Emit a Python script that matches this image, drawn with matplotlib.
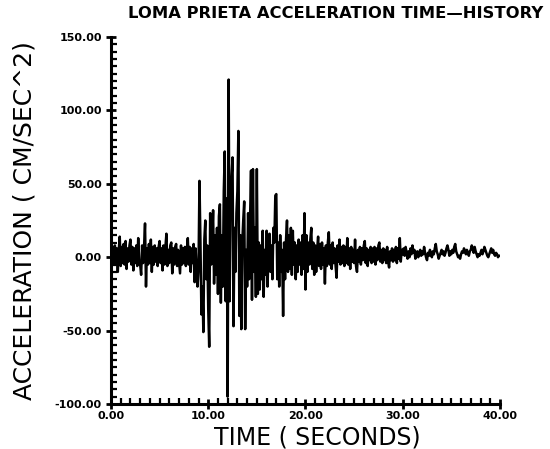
import numpy as np
import matplotlib
matplotlib.use("Agg")
from matplotlib import pyplot as plt
from matplotlib.ticker import MultipleLocator, FormatStrFormatter

# acceleration, one row per second, 0.1 s apart (cm/sec^2)
dt = 0.1
acc_0_10 = [
    4, -3, 7, -5, 8, -4, 6, -10, 5, 14,
    -6, 7, -4, 9, -5, 11, -8, 6, -3, 8,
    12, -5, 7, -9, 6, -4, 8, -6, 13, -3,
    -5, -12, 8, -4, 7, 23, -20, 6, -5, 9,
    -4, 12, -10, 7, -5, 8, -3, 6, -6, 7,
    11, -4, 6, -9, 8, -5, 7, 16, -6, 5,
    -4, 8, 10, -11, 6, -5, 7, 9, -6, 5,
    -3, -11, 8, -5, 6, -4, 7, -6, 5, 13,
    -5, 7, -10, 6, -4, 9, -17, 6, -8, -20,
    -8, 52, 10, -39, -20, -51, 12, 25, -15, 8,
]
acc_10_20 = [
    -35, -61, 30, -5, 10, 32, -18, 15, -12, 20,
    -25, 28, 36, -31, 15, -20, 45, 72, -30, 40,
    -95, 121, -30, 40, 55, 68, -47, 20, -10, 30,
    45, 86, -40, 15, -49, 10, 25, 38, -49, 5,
    -20, 30, -15, 25, 59, -29, 60, -10, 20, -27,
    60, -25, 10, -22, 8, -15, 18, -27, 5, -12,
    18, -20, 5, 16, -10, 8, -15, 20, 10, 42,
    43, -15, 10, -20, 15, -10, 5, -40, 10, -15,
    12, 25, -10, 15, -8, 20, -12, 18, -5, 10,
    -15, 8, -10, 12, -5, 10, -12, 15, -8, 30,
]
acc_20_30 = [
    -22, 15, -10, 10, -5, 12, 20, -8, 10, -12,
    8, -10, 5, 14, -6, 9, -8, 10, -5, 6,
    -18, 8, -6, 10, 17, -5, 8, -8, 10, -4,
    6, -6, -14, 8, -3, 12, -5, 7, -4, 8,
    -6, 7, -4, 13, -5, 6, -8, 7, -3, 5,
    -4, 12, -6, -10, 5, -3, 7, -5, 6, -2,
    8, 11, -4, 6, -6, 5, -2, 7, -4, 6,
    -3, 7, -5, 6, -2, 8, 10, -3, 5, -4,
    6, -2, 5, -4, 7, -3, -7, 4, -2, 6,
    -3, 5, -2, 7, -4, 6, -1, 13, -3, 5,
]
acc_30_40 = [
    2, 6, 1, 7, 3, -1, 4, 0, 6, 2,
    8, 3, 5, -1, 2, 4, 0, 3, 5, 1,
    4, 2, 7, 3, 0, -2, 3, 1, 5, 2,
    0, 4, 2, 6, 9, 4, 2, -1, 1, 3,
    5, 2, 4, 1, 3, 6, 8, 5, 1, 4,
    2, 5, 3, 7, 9, 4, 2, 0, 1, -1,
    2, 4, 3, 6, 4, 2, 5, 3, 1, 4,
    5, 8, 6, 3, 7, 4, 2, 0, 2, 1,
    3, 5, 2, 4, 7, 5, 3, 1, 0, 2,
    4, 6, 3, 5, 2, 1, 3, 2, 0, 1,
    1,
]

x_ticks = [0, 10, 20, 30, 40]
y_ticks = [-100, -50, 0, 50, 100, 150]

acc = np.array(acc_0_10 + acc_10_20 + acc_20_30 + acc_30_40, dtype=float)
time = np.arange(len(acc)) * dt

fig = plt.figure(figsize=(5.5, 4.49), dpi=100)
ax = fig.add_axes([0.2018, 0.1002, 0.7072, 0.8174])

ax.plot(time, acc, color="black", lw=1.8, solid_joinstyle="round")

ax.set_xlim(0, 40)
ax.set_ylim(-100, 150)
ax.set_xticks(x_ticks)
ax.set_yticks(y_ticks)
ax.xaxis.set_minor_locator(MultipleLocator(1))
ax.yaxis.set_minor_locator(MultipleLocator(5))
ax.xaxis.set_major_formatter(FormatStrFormatter("%.2f"))
ax.yaxis.set_major_formatter(FormatStrFormatter("%.2f"))

for side in ["top", "right"]:
    ax.spines[side].set_visible(False)
for side in ["left", "bottom"]:
    ax.spines[side].set_linewidth(2.2)

ax.tick_params(which="major", direction="inout", length=7, width=2, pad=3)
ax.tick_params(axis="x", which="major", pad=1.5)
ax.tick_params(which="minor", direction="in", length=4, width=1.6)
for lab in ax.get_xticklabels() + ax.get_yticklabels():
    lab.set_fontsize(8)
    lab.set_fontweight("bold")

ax.set_xlabel("TIME ( SECONDS)", fontsize=17)
ax.set_ylabel("ACCELERATION ( CM/SEC^2)", fontsize=18)
ax.xaxis.set_label_coords(0.53, -0.09, transform=ax.transAxes)
ax.yaxis.set_label_coords(-0.222, 0.5, transform=ax.transAxes)
ax.xaxis.label.set_va("center")
ax.yaxis.label.set_va("center")

fig.text(0.611, 0.970, "LOMA PRIETA ACCELERATION TIME\u2014HISTORY",
         ha="center", va="center", fontsize=11.8, fontweight="bold")

fig.savefig("out.png", dpi=100)
